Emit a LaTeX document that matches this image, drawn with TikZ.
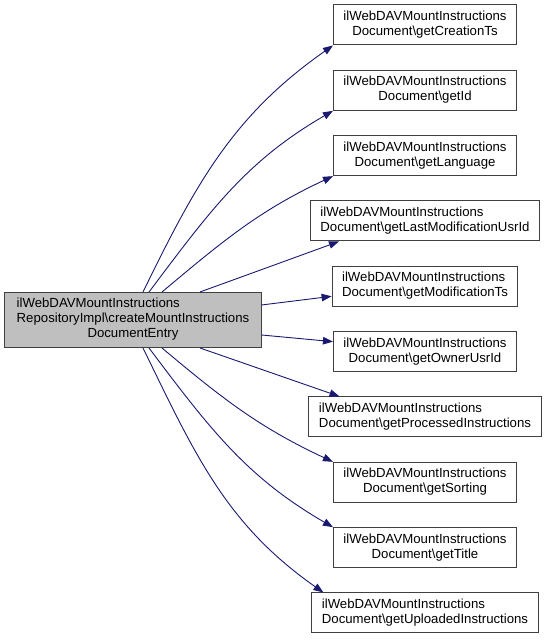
\documentclass[tikz,border=0pt]{standalone}
\usepackage{fontspec}
\setmainfont{Liberation Sans}
\usetikzlibrary{arrows.meta,positioning}
\definecolor{midnight}{HTML}{191970}
\definecolor{boxedge}{HTML}{404040}
\definecolor{mainfill}{HTML}{BFBFBF}
% first line flush left, last line centred
\newcommand{\fnlabel}[2]{\begin{tabular}{@{}l@{}}#1\\\multicolumn{1}{@{}c@{}}{#2}\end{tabular}}
\tikzset{
  fnbox/.style={rectangle, draw=boxedge, line width=1bp, minimum height=40bp, inner xsep=10bp, inner ysep=0pt, font=\fontsize{13.2bp}{15bp}\selectfont},
  mainbox/.style={fnbox, fill=mainfill, minimum width=256bp, minimum height=55bp},
  call/.style={-{Triangle[length=10bp,width=7.5bp]}, draw=midnight, line width=0.9bp}
}

\begin{document}
\begin{tikzpicture}[x=1bp, y=1bp, node distance=24.33bp]
  \useasboundingbox (0,0) rectangle (548,640);
  \node[mainbox] (repo) at (133,320) {\begin{tabular}{@{}l@{}}ilWebDAVMountInstructions\\RepositoryImpl\textbackslash createMountInstructions\\\multicolumn{1}{@{}c@{}}{DocumentEntry}\end{tabular}};
  \node[fnbox] (creationts) at (425,615) {\fnlabel{ilWebDAVMountInstructions}{Document\textbackslash getCreationTs}};
  \node[fnbox, below=of creationts] (id) {\fnlabel{ilWebDAVMountInstructions}{Document\textbackslash getId}};
  \node[fnbox, below=of id] (language) {\fnlabel{ilWebDAVMountInstructions}{Document\textbackslash getLanguage}};
  \node[fnbox, below=of language] (lastmod) {\fnlabel{ilWebDAVMountInstructions}{Document\textbackslash getLastModificationUsrId}};
  \node[fnbox, below=of lastmod] (modts) {\fnlabel{ilWebDAVMountInstructions}{Document\textbackslash getModificationTs}};
  \node[fnbox, below=of modts] (owner) {\fnlabel{ilWebDAVMountInstructions}{Document\textbackslash getOwnerUsrId}};
  \node[fnbox, below=of owner] (processed) {\fnlabel{ilWebDAVMountInstructions}{Document\textbackslash getProcessedInstructions}};
  \node[fnbox, below=of processed] (sorting) {\fnlabel{ilWebDAVMountInstructions}{Document\textbackslash getSorting}};
  \node[fnbox, below=of sorting] (title) {\fnlabel{ilWebDAVMountInstructions}{Document\textbackslash getTitle}};
  \node[fnbox, below=of title] (uploaded) {\fnlabel{ilWebDAVMountInstructions}{Document\textbackslash getUploadedInstructions}};
  % calls going up
  \draw[call] ([xshift=10bp]repo.north) to[out=64, in=215] (creationts.south west);
  \draw[call] ([xshift=16bp]repo.north) to[out=53, in=210] (id.south west);
  \draw[call] ([xshift=29bp]repo.north) to[out=40, in=205] (language.south west);
  \draw[call] ([xshift=67bp]repo.north) -- ([xshift=29bp]lastmod.south west);
  \draw[call] ([yshift=15bp]repo.east) -- ([yshift=-10bp]modts.west);
  % calls going down
  \draw[call] ([yshift=-15bp]repo.east) -- ([yshift=10bp]owner.west);
  \draw[call] ([xshift=67bp]repo.south) -- ([xshift=31bp]processed.north west);
  \draw[call] ([xshift=29bp]repo.south) to[out=-40, in=155] (sorting.north west);
  \draw[call] ([xshift=16bp]repo.south) to[out=-53, in=150] (title.north west);
  \draw[call] ([xshift=10bp]repo.south) to[out=-64, in=145] ([xshift=12bp]uploaded.north west);
\end{tikzpicture}
\end{document}
